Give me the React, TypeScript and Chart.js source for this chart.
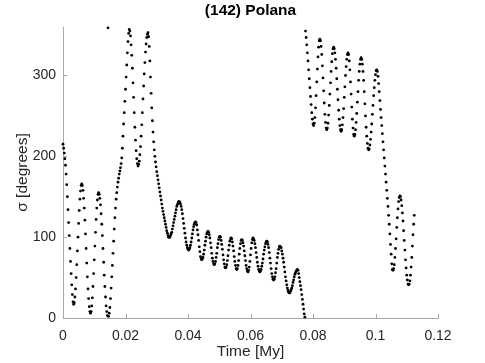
import React, { useEffect, useRef } from "react";
import { Chart, registerables } from "chart.js";

Chart.register(...registerables);

// Sampling interval of the series (My)
const timeStep = 0.0002;

// σ [degrees], t = 0 … 0.0212 My
const sigmaEarly = [
  215, 210, 204, 197, 189, 178, 165, 150, 134, 118, 102, 86, 70, 55, 41, 29, 20,
  17, 19, 26, 36, 50, 66, 83, 100, 117, 133, 147, 157, 164, 166,
  164, 158, 148, 136, 121, 104, 86, 68, 51, 36, 24, 14, 8, 6,
  8, 15, 25, 39, 55, 72, 89, 106, 122, 136, 146, 153, 155,
  153, 148, 140, 129, 116, 102, 86, 69, 53, 39, 26, 15, 8, 3,
  359,
  2, 6, 13, 24, 37, 51, 65, 80, 95, 110, 124, 136, 147, 155, 162, 168, 173, 178,
  182, 186, 191, 198, 210, 225, 240, 254, 268, 283, 298, 313, 328, 342, 352, 357,
];

// t = 0.0214 … 0.0774 My
const sigmaMid = [
  355, 349, 338, 325, 309, 291, 273, 254, 236, 220, 207, 197, 191, 188,
  190, 194, 202, 212, 225, 239, 254, 271, 287, 302, 316, 329, 339, 347, 351, 353,
  348, 336, 318, 298, 278, 260, 244, 230, 218, 208, 200, 193, 187, 181, 176, 171,
  166, 161, 156, 151, 146, 141, 136, 132, 128, 124, 120, 116, 112, 108, 105, 102, 100, 100,
  100, 102, 104, 106, 110, 114, 118, 122, 126, 130, 134, 138, 140, 142, 144, 144,
  143, 141, 138, 134, 129, 123, 117, 111, 105, 99, 94, 90, 87, 85, 84,
  85, 87, 90, 94, 99, 104, 109, 113, 116, 118, 119,
  118, 115, 109, 103, 96, 88, 82, 76, 73, 72,
  73, 75, 79, 84, 90, 95, 100, 104, 106, 107,
  106, 103, 99, 93, 87, 80, 74, 70, 67, 66,
  67, 70, 75, 80, 87, 92, 97, 100, 101,
  100, 96, 91, 85, 78, 72, 67, 63, 62,
  63, 66, 71, 77, 84, 90, 95, 98, 99,
  98, 94, 89, 83, 76, 70, 65, 61, 60,
  61, 65, 71, 79, 86, 92, 96, 97,
  96, 93, 89, 83, 77, 71, 65, 61, 58, 57,
  59, 63, 70, 78, 86, 93, 97, 99,
  98, 96, 92, 87, 81, 75, 69, 64, 60, 58, 57,
  58, 60, 64, 68, 73, 79, 84, 88, 92, 94, 95,
  94, 91, 87, 81, 74, 68, 61, 55, 51, 48, 47,
  48, 51, 56, 61, 68, 75, 80, 85, 88, 89,
  88, 87, 83, 79, 74, 69, 63, 57, 51, 46, 41, 37, 34, 32, 31,
  31, 33, 35, 37, 40, 44, 47, 51, 54, 56, 58, 59, 60,
  59, 55, 50, 45, 40, 35, 29, 23, 17, 11, 5, 1,
];

// t = 0.0776 … 0.1124 My
const sigmaLate = [
  355, 347, 338, 328, 318, 307, 296, 285, 274, 264, 254, 246, 240, 238,
  241, 248, 260, 275, 292, 308, 323, 335, 343, 345,
  343, 336, 326, 312, 297, 281, 266, 252, 242, 235, 233,
  235, 241, 251, 263, 277, 291, 305, 317, 327, 333, 335,
  333, 328, 320, 309, 296, 283, 270, 257, 246, 238, 233, 231,
  233, 239, 248, 259, 273, 286, 300, 311, 320, 326, 328,
  326, 318, 307, 292, 277, 261, 246, 235, 227, 225,
  227, 233, 242, 253, 267, 280, 294, 305, 314, 320, 322,
  320, 314, 305, 294, 280, 265, 250, 236, 225, 216, 210, 208,
  209, 214, 221, 230, 240, 252, 263, 275, 285, 294, 301, 306, 307,
  305, 299, 290, 280, 269, 258, 248, 238, 228, 218, 208, 198, 188, 178, 168, 158,
  148, 138, 127, 116, 104, 91, 79, 67, 60, 59,
  61, 66, 75, 86, 98, 112, 124, 135, 144, 149, 151,
  150, 146, 139, 130, 120, 108, 96, 84, 72, 62, 53, 47, 42, 41,
  42, 46, 53, 63, 75, 89, 103, 116, 127,
];

const xTicks = [0, 0.02, 0.04, 0.06, 0.08, 0.1, 0.12];
const xTickLabels = ["0", "0.02", "0.04", "0.06", "0.08", "0.1", "0.12"];
const yTicks = [0, 100, 200, 300];
const yTickLabels = ["0", "100", "200", "300"];

const titleText = "(142) Polana";
const xTitle = "Time [My]";
const yTitle = "σ [degrees]";

const FONT = "'Liberation Sans', Arial, Helvetica, sans-serif";
const AXIS_COLOR = "#a8a8a8";
const TEXT_COLOR = "#262626";

export default function App() {
  const ref = useRef<HTMLCanvasElement | null>(null);

  useEffect(() => {
    if (!ref.current) return;
    const sigma = [...sigmaEarly, ...sigmaMid, ...sigmaLate];
    const points = sigma.map((v, i) => ({ x: i * timeStep, y: v }));

    const innerTicks = {
      id: "innerTicks",
      beforeDatasetsDraw(chart: any) {
        const { ctx, chartArea, scales } = chart;
        ctx.save();
        ctx.strokeStyle = AXIS_COLOR;
        ctx.lineWidth = 1;
        xTicks.forEach((v) => {
          if (v === 0) return;
          const x = Math.round(scales.x.getPixelForValue(v)) + 0.5;
          ctx.beginPath();
          ctx.moveTo(x, chartArea.bottom);
          ctx.lineTo(x, chartArea.bottom - 4);
          ctx.stroke();
        });
        yTicks.forEach((v) => {
          if (v === 0) return;
          const y = Math.round(scales.y.getPixelForValue(v)) + 0.5;
          ctx.beginPath();
          ctx.moveTo(chartArea.left, y);
          ctx.lineTo(chartArea.left + 4, y);
          ctx.stroke();
        });
        ctx.restore();
      },
    };

    const chart = new Chart(ref.current, {
      type: "scatter",
      data: {
        datasets: [
          {
            data: points,
            backgroundColor: "#000",
            borderWidth: 0,
            pointRadius: 1.4,
            pointHoverRadius: 1.4,
            clip: false,
          } as any,
        ],
      },
      options: {
        animation: false,
        responsive: false,
        events: [],
        layout: { padding: { left: 0, right: 47, top: 0, bottom: 0 } },
        plugins: {
          legend: { display: false },
          tooltip: { enabled: false },
          title: {
            display: true,
            text: titleText,
            color: "#000",
            font: { family: FONT, size: 15.5, weight: "bold" },
            padding: { top: 1, bottom: 7.4 },
            fullSize: false,
          } as any,
        },
        scales: {
          x: {
            type: "linear",
            min: 0,
            max: 0.12,
            afterBuildTicks: (s: any) => {
              s.ticks = xTicks.map((v) => ({ value: v }));
            },
            afterFit: (s: any) => {
              s.height = 45;
            },
            ticks: {
              color: TEXT_COLOR,
              font: { family: FONT, size: 14 },
              padding: 10,
              maxRotation: 0,
              autoSkip: false,
              callback: (v: any) => {
                const k = xTicks.findIndex((t) => Math.abs(t - v) < 1e-9);
                return k >= 0 ? xTickLabels[k] : "";
              },
            },
            grid: { display: true, drawOnChartArea: false, drawTicks: false },
            border: { display: true, color: AXIS_COLOR, width: 1 },
            title: {
              display: true,
              text: xTitle,
              color: TEXT_COLOR,
              font: { family: FONT, size: 15.5 },
              padding: { top: 0, bottom: 2 },
            },
          },
          y: {
            type: "linear",
            min: 0,
            max: 360,
            afterBuildTicks: (s: any) => {
              s.ticks = yTicks.map((v) => ({ value: v }));
            },
            afterFit: (s: any) => {
              s.width = 63;
            },
            ticks: {
              color: TEXT_COLOR,
              font: { family: FONT, size: 14 },
              padding: 7,
              autoSkip: false,
              callback: (v: any) => {
                const k = yTicks.indexOf(v);
                return k >= 0 ? yTickLabels[k] : "";
              },
            },
            grid: { display: true, drawOnChartArea: false, drawTicks: false },
            border: { display: true, color: AXIS_COLOR, width: 1 },
            title: {
              display: true,
              text: yTitle,
              color: TEXT_COLOR,
              font: { family: FONT, size: 15.5 },
              padding: { top: 13, bottom: 0 },
            },
          },
        },
      },
      plugins: [innerTicks],
    });

    return () => chart.destroy();
  }, []);

  return (
    <div style={{ position: "absolute", left: 0, top: 0, width: 485, height: 363, background: "#fff" }}>
      <canvas ref={ref} width={485} height={363} style={{ display: "block" }} />
    </div>
  );
}
